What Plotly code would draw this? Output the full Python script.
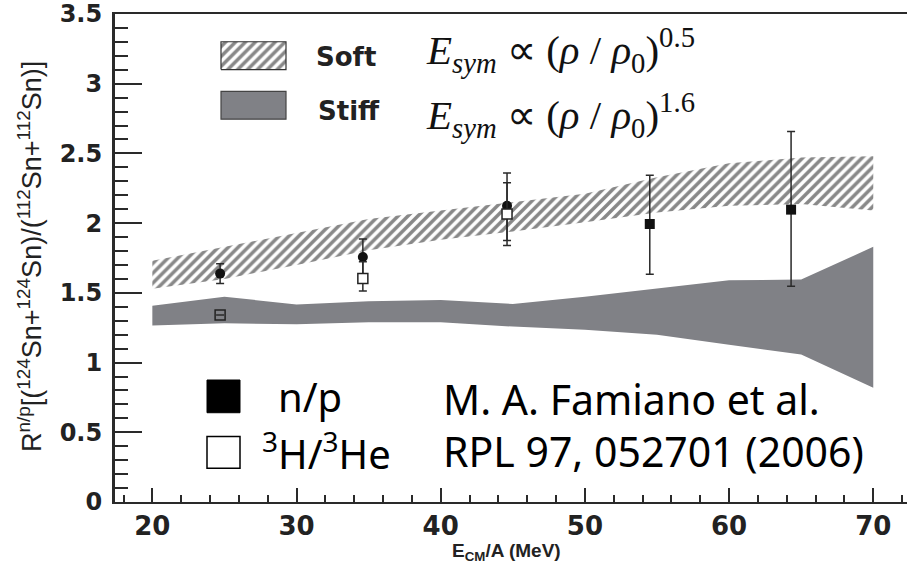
import plotly.graph_objects as go

# ---- data ----
band_x = [20, 25, 30, 35, 40, 45, 50, 55, 60, 65, 70]
soft_hi = [1.73, 1.83, 1.935, 2.03, 2.09, 2.15, 2.21, 2.33, 2.43, 2.47, 2.48]
soft_lo = [1.53, 1.60, 1.70, 1.805, 1.88, 1.94, 2.006, 2.077, 2.125, 2.137, 2.09]
stiff_hi = [1.408, 1.472, 1.417, 1.44, 1.449, 1.42, 1.472, 1.53, 1.59, 1.595, 1.83]
stiff_lo = [1.266, 1.282, 1.275, 1.29, 1.29, 1.258, 1.235, 1.20, 1.128, 1.057, 0.82]

np_x = [24.7, 34.6, 44.6, 54.5, 64.3]
np_y = [1.638, 1.757, 2.125, 1.994, 2.097]
np_err_up = [0.07, 0.13, 0.235, 0.35, 0.56]
np_err_dn = [0.07, 0.13, 0.285, 0.36, 0.55]

t_x = [24.7, 34.6, 44.6]
t_y = [1.342, 1.603, 2.065]
t_err_up = [0.0, 0.12, 0.225]
t_err_dn = [0.0, 0.09, 0.19]

x_ticks = [20, 30, 40, 50, 60, 70]
y_ticks = [0, 0.5, 1, 1.5, 2, 2.5, 3, 3.5]
y_tick_text = ["0", "0.5", "1", "1.5", "2", "2.5", "3", "3.5"]

GRAY = "#808186"
AX = "#2a2a2a"
HATCH = dict(shape="/", size=7, solidity=0.5, fgcolor="#111111", bgcolor="white")

fig = go.Figure()

# soft (hatched) band
fig.add_trace(go.Scatter(
    x=band_x + band_x[::-1], y=soft_hi + soft_lo[::-1],
    mode="lines", fill="toself", line=dict(width=0),
    fillcolor="white", fillpattern=HATCH,
    hoverinfo="skip", showlegend=False))

# stiff (gray) band
fig.add_trace(go.Scatter(
    x=band_x + band_x[::-1], y=stiff_hi + stiff_lo[::-1],
    mode="lines", fill="toself", line=dict(width=0),
    fillcolor=GRAY, hoverinfo="skip", showlegend=False))

# n/p data
fig.add_trace(go.Scatter(
    x=np_x, y=np_y, mode="markers",
    marker=dict(symbol=["circle", "circle", "circle", "square", "square"],
                size=10, color="#111111", line=dict(width=0)),
    error_y=dict(type="data", symmetric=False, array=np_err_up, arrayminus=np_err_dn,
                 thickness=1.5, width=4, color=AX),
    showlegend=False))

# 3H/3He data
fig.add_trace(go.Scatter(
    x=t_x, y=t_y, mode="markers",
    marker=dict(symbol="square", size=10, color=["rgba(0,0,0,0)", "white", "white"],
                line=dict(width=1.5, color="#222222")),
    error_y=dict(type="data", symmetric=False, array=t_err_up, arrayminus=t_err_dn,
                 thickness=1.5, width=4, color=AX),
    showlegend=False))

# hatched legend box (on an overlay axis spanning the plot, 0..1)
L = 115.0; W = 792.0; B = 502.0; H = 492.0
def px(v): return (v - L) / W
def py(v): return (B - v) / H

bx0, bx1 = px(221), px(286)
by0, by1 = py(66), py(38)
fig.add_trace(go.Scatter(
    x=[bx0, bx1, bx1, bx0, bx0], y=[by0, by0, by1, by1, by0],
    xaxis="x2", yaxis="y2", mode="lines", fill="toself",
    line=dict(width=1.2, color="#333333"), fillcolor="white", fillpattern=HATCH,
    hoverinfo="skip", showlegend=False))

shapes = [
    dict(type="rect", xref="paper", yref="paper", x0=px(221), x1=px(286), y0=py(116), y1=py(88),
         fillcolor=GRAY, line=dict(color="#444444", width=1.2)),
    dict(type="rect", xref="paper", yref="paper", x0=px(207), x1=px(240), y0=py(412), y1=py(379),
         fillcolor="black", line=dict(color="black", width=1)),
    dict(type="rect", xref="paper", yref="paper", x0=px(207), x1=px(240), y0=py(468), y1=py(436),
         fillcolor="white", line=dict(color="black", width=1.5)),
]

serif = "Liberation Serif"
ann = [
    dict(text="<b>Soft</b>", x=px(314), y=py(53), xanchor="left", yanchor="middle",
         font=dict(family="DejaVu Sans", size=26, color="#222")),
    dict(text="<b>Stiff</b>", x=px(316), y=py(108), xanchor="left", yanchor="middle",
         font=dict(family="DejaVu Sans", size=26, color="#222")),
    dict(text="<i>E</i><sub><i>sym</i></sub> \u221d (<i>\u03c1</i> / <i>\u03c1</i><sub>0</sub>)<sup>0.5</sup>",
         x=px(424), y=py(46), xanchor="left", yanchor="middle",
         font=dict(family=serif, size=41, color="#111")),
    dict(text="<i>E</i><sub><i>sym</i></sub> \u221d (<i>\u03c1</i> / <i>\u03c1</i><sub>0</sub>)<sup>1.6</sup>",
         x=px(424), y=py(112), xanchor="left", yanchor="middle",
         font=dict(family=serif, size=41, color="#111")),
    dict(text="n/p", x=px(276), y=py(396), xanchor="left", yanchor="middle",
         font=dict(family="Noto Sans", size=40, color="black")),
    dict(text="<sup>3</sup>H/<sup>3</sup>He", x=px(260), y=py(451), xanchor="left", yanchor="middle",
         font=dict(family="Noto Sans", size=40, color="black")),
    dict(text="M. A. Famiano et al.", x=px(441), y=py(398), xanchor="left", yanchor="middle",
         font=dict(family="Noto Sans", size=41, color="black")),
    dict(text="RPL 97, 052701 (2006)", x=px(441), y=py(451), xanchor="left", yanchor="middle",
         font=dict(family="Noto Sans", size=41, color="black")),
    dict(text="R<sup>n/p</sup>[(<sup>124</sup>Sn+<sup>124</sup>Sn)/(<sup>112</sup>Sn+<sup>112</sup>Sn)]",
         x=px(30), y=py(255), xanchor="center", yanchor="middle", textangle=-90,
         font=dict(family="Liberation Sans", size=27, color="#222")),
    dict(text="<b>E<sub>CM</sub>/A (MeV)</b>", x=px(506), y=py(552), xanchor="center", yanchor="middle",
         font=dict(family="Liberation Sans", size=19, color="#222")),
]
for a in ann:
    a.update(xref="paper", yref="paper", showarrow=False)

fig.update_layout(
    width=907, height=565,
    margin=dict(l=115, r=0, t=10, b=63),
    paper_bgcolor="white", plot_bgcolor="white",
    shapes=shapes, annotations=ann,
    xaxis=dict(range=[17.41, 72.34], tickvals=x_ticks, ticks="inside", ticklen=14, tickwidth=2,
               tickcolor=AX, showline=True, linewidth=2, linecolor=AX, mirror=True,
               showgrid=False, zeroline=False, ticklabelstandoff=0, ticklabeloverflow="allow",
               tickfont=dict(family="DejaVu Sans", size=26, weight="bold", color="#222"),
               minor=dict(dtick=2, tick0=0, ticks="inside", ticklen=7, tickwidth=1.5, tickcolor=AX)),
    yaxis=dict(range=[0, 3.5], tickvals=y_ticks, ticktext=y_tick_text, ticks="inside", ticklen=27,
               tickwidth=2, tickcolor=AX, showline=True, linewidth=3, linecolor=AX,
               showgrid=False, zeroline=False, ticklabelstandoff=5, ticklabeloverflow="allow",
               tickfont=dict(family="DejaVu Sans", size=24, weight="bold", color="#222"),
               minor=dict(dtick=0.1, tick0=0, ticks="inside", ticklen=13, tickwidth=1.5, tickcolor=AX)),
    xaxis2=dict(range=[0, 1], overlaying="x", visible=False, fixedrange=True),
    yaxis2=dict(range=[0, 1], overlaying="y", visible=False, fixedrange=True),
    showlegend=False,
)

fig.write_html("out.html", config={"displayModeBar": False},
               post_script="document.body.style.margin='0';document.body.style.overflow='hidden';")
